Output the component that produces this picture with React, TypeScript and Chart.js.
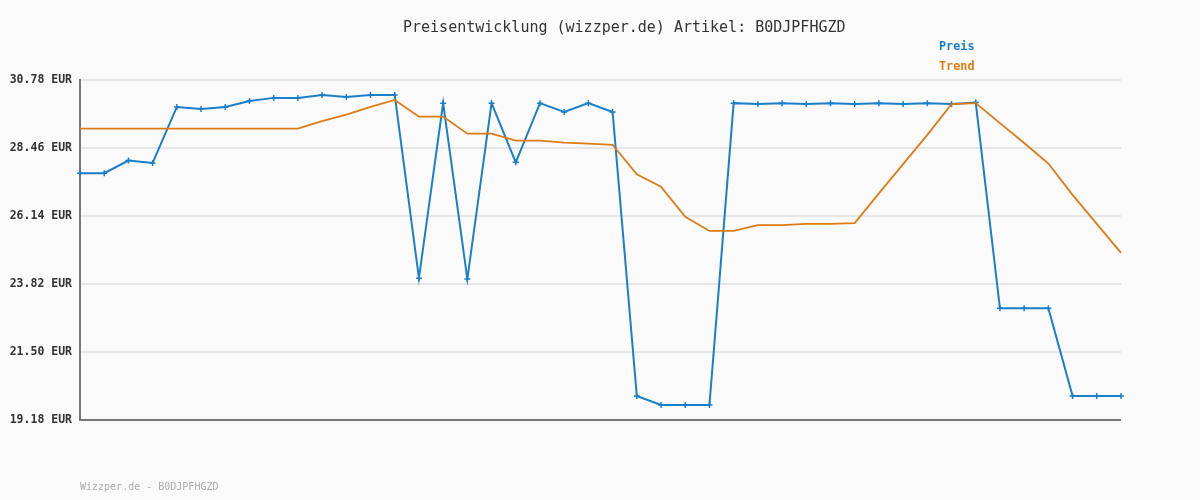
import React, { useEffect, useRef } from "react";
import { Chart, registerables } from "chart.js";

Chart.register(...registerables);

const titleText = "Preisentwicklung (wizzper.de) Artikel: B0DJPFHGZD";
const footerText = "Wizzper.de - B0DJPFHGZD";
const seriesNames = ["Preis", "Trend"];

const categories: string[] = Array.from({ length: 44 }, (_, i) => String(i + 1));

const preis: number[] = [
  27.6, 27.6, 28.03, 27.95, 29.86, 29.79, 29.86, 30.06, 30.17, 30.17,
  30.27, 30.2, 30.27, 30.27, 24.02, 29.99, 23.99, 29.99, 27.97, 29.99,
  29.69, 29.99, 29.69, 20.0, 19.69, 19.69, 19.69, 29.99, 29.96, 29.99,
  29.96, 29.99, 29.96, 29.99, 29.96, 29.99, 29.96, 30.01, 22.99, 22.99,
  22.99, 20.0, 20.0, 20.0,
];

const trend: number[] = [
  29.12, 29.12, 29.12, 29.12, 29.12, 29.12, 29.12, 29.12, 29.12, 29.12,
  29.38, 29.6, 29.86, 30.1, 29.53, 29.53, 28.95, 28.95, 28.71, 28.71,
  28.64, 28.61, 28.57, 27.56, 27.14, 26.11, 25.63, 25.63, 25.83, 25.83,
  25.87, 25.87, 25.9, 26.91, 27.91, 28.91, 29.96, 29.99, 29.31, 28.63,
  27.93, 26.86, 25.87, 24.88,
];

const yTicks: number[] = [19.18, 21.5, 23.82, 26.14, 28.46, 30.78];

const BLUE = "#1a7fc9";
const ORANGE = "#de7b12";
const MONO = '"DejaVu Sans Mono", "Liberation Mono", monospace';

export default function App() {
  const ref = useRef<HTMLCanvasElement | null>(null);

  useEffect(() => {
    const canvas = ref.current;
    if (!canvas) return;

    const decor = {
      id: "decor",
      beforeDraw(chart: any) {
        const ctx = chart.ctx;
        ctx.save();
        ctx.fillStyle = "#fafafa";
        ctx.fillRect(0, 0, chart.width, chart.height);
        ctx.restore();
      },
      beforeDatasetsDraw(chart: any) {
        const ctx = chart.ctx;
        const a = chart.chartArea;
        ctx.save();
        ctx.strokeStyle = "#777777";
        ctx.lineWidth = 2;
        ctx.beginPath();
        ctx.moveTo(a.left - 1, a.bottom);
        ctx.lineTo(a.right, a.bottom);
        ctx.stroke();
        ctx.restore();
      },
      afterDraw(chart: any) {
        const ctx = chart.ctx;
        ctx.save();
        ctx.textBaseline = "middle";
        ctx.fillStyle = "#333333";
        ctx.font = `15px ${MONO}`;
        ctx.textAlign = "left";
        ctx.fillText(titleText, 403, 28);
        ctx.font = `bold 11.8px ${MONO}`;
        ctx.fillStyle = BLUE;
        ctx.fillText(seriesNames[0], 939, 47);
        ctx.fillStyle = ORANGE;
        ctx.fillText(seriesNames[1], 939, 67);
        ctx.font = `10px ${MONO}`;
        ctx.fillStyle = "#aaaaaa";
        ctx.fillText(footerText, 80, 487);
        ctx.restore();
      },
    };

    const chart = new Chart(canvas, {
      type: "line",
      data: {
        labels: categories,
        datasets: [
          {
            label: seriesNames[1],
            data: trend,
            borderColor: ORANGE,
            backgroundColor: ORANGE,
            borderWidth: 1.8,
            pointRadius: 0,
            tension: 0,
            order: 0,
          },
          {
            label: seriesNames[0],
            data: preis,
            borderColor: BLUE,
            backgroundColor: BLUE,
            borderWidth: 2,
            pointStyle: "cross",
            pointRadius: 3,
            pointBorderWidth: 1.5,
            pointBorderColor: BLUE,
            tension: 0,
            order: 1,
          },
        ],
      },
      options: {
        responsive: false,
        animation: false,
        layout: { padding: { top: 80, right: 79, bottom: 80, left: 0 } },
        plugins: {
          legend: { display: false },
          title: { display: false },
          tooltip: { enabled: false },
        },
        scales: {
          x: {
            type: "category",
            display: false,
            offset: false,
          },
          y: {
            min: 19.18,
            max: 30.78,
            afterBuildTicks: (scale: any) => {
              scale.ticks = yTicks.map((v) => ({ value: v }));
            },
            afterFit: (scale: any) => {
              scale.width = 80;
            },
            grid: {
              color: "#e6e6e6",
              lineWidth: 2,
              drawTicks: false,
              tickLength: 0,
            },
            border: { display: true, color: "#777777", width: 2 },
            ticks: {
              padding: 8,
              color: "#333333",
              font: { family: MONO, size: 11.5, weight: "bold" },
              callback: (v: any) => Number(v).toFixed(2) + " EUR",
            },
          },
        },
      },
      plugins: [decor],
    } as any);

    return () => chart.destroy();
  }, []);

  return (
    <div style={{ position: "absolute", left: 0, top: 0, width: 1200, height: 500 }}>
      <canvas ref={ref} width={1200} height={500} style={{ display: "block" }} />
    </div>
  );
}
